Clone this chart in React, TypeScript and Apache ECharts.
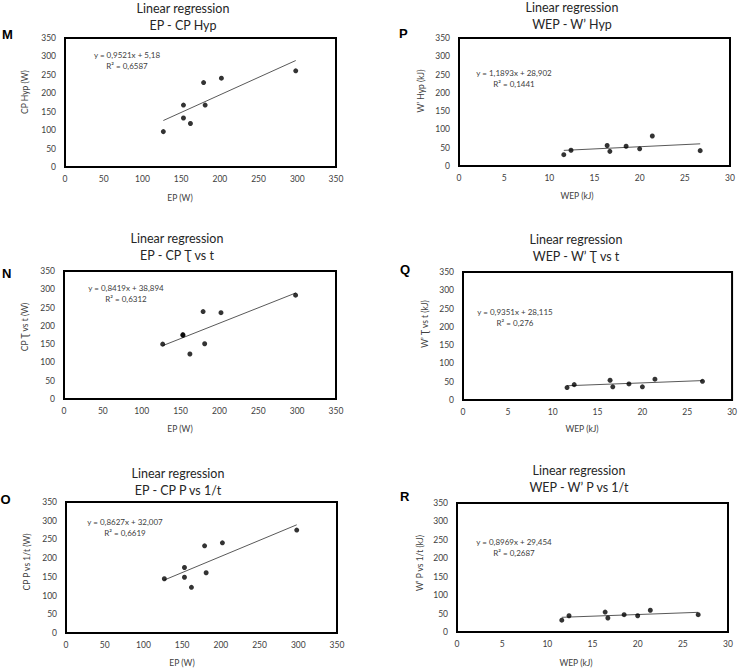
import React, { useEffect, useRef } from "react";
import * as echarts from "echarts";

// ---- data ----
const epValues = [127, 153, 153, 162, 179, 181, 202, 298];
const cpHyp = [96, 168, 133, 118, 229, 168, 241, 261];
const cpTauVsT = [150, 176, 174, 123, 239, 151, 236, 284];
const cpPVsInvT = [145, 175, 149, 122, 233, 161, 241, 275];

const wepValues = [11.6, 12.4, 16.4, 16.7, 18.5, 20.0, 21.4, 26.7];
const wHyp = [31, 43, 56, 40, 54, 47, 82, 42];
const wTauVsT = [34, 42, 54, 36, 44, 36, 57, 51];
const wPVsInvT = [32, 44, 54, 38, 47, 44, 59, 47];

const slopes = [0.9521, 1.1893, 0.8419, 0.9351, 0.8627, 0.8969];
const intercepts = [5.18, 28.902, 38.894, 28.115, 32.007, 29.454];
const equations = [
  "y = 0,9521x + 5,18",
  "y = 1,1893x + 28,902",
  "y = 0,8419x + 38,894",
  "y = 0,9351x + 28,115",
  "y = 0,8627x + 32,007",
  "y = 0,8969x + 29,454",
];
const rSquared = ["R² = 0,6587", "R² = 0,1441", "R² = 0,6312", "R² = 0,276", "R² = 0,6619", "R² = 0,2687"];
const letters = ["M", "P", "N", "Q", "O", "R"];
const subtitles = [
  "EP - CP Hyp",
  "WEP - W\u2019 Hyp",
  "EP - CP \u01AE vs t",
  "WEP - W\u2019 \u01AE vs t",
  "EP - CP P vs 1/t",
  "WEP - W\u2019 P vs 1/t",
];
const xNames = ["EP (W)", "WEP (kJ)", "EP (W)", "WEP (kJ)", "EP (W)", "WEP (kJ)"];
const yNames = [
  "CP Hyp (W)",
  "W\u2019 Hyp (kJ)",
  "CP \u01AE vs t (W)",
  "W\u2019 \u01AE vs t (kJ)",
  "CP P vs 1/t (W)",
  "W\u2019 P vs 1/t (kJ)",
];
const xSeries = [epValues, wepValues, epValues, wepValues, epValues, wepValues];
const ySeries = [cpHyp, wHyp, cpTauVsT, wTauVsT, cpPVsInvT, wPVsInvT];
const xMaxes = [350, 30, 350, 30, 350, 30];
const xIntervals = [50, 5, 50, 5, 50, 5];
const yMax = 350;
const yInterval = 50;

// ---- layout ----
const layout = [
  { grid: { left: 65, top: 38, width: 271, height: 129 }, title: [183, 16.5], letter: [2, 34], yName: [25, 92], xName: [180, 198], eq: [127, 60.5] },
  { grid: { left: 459, top: 38, width: 271, height: 128 }, title: [572, 16], letter: [399, 33], yName: [421, 91], xName: [577, 196], eq: [514, 78.5] },
  { grid: { left: 64, top: 271, width: 272, height: 128 }, title: [177, 247], letter: [2, 273], yName: [25, 327], xName: [180, 429], eq: [126, 293] },
  { grid: { left: 463, top: 272, width: 271, height: 128 }, title: [576, 248], letter: [400, 269], yName: [425, 324], xName: [582, 429], eq: [515, 317.5] },
  { grid: { left: 66, top: 502, width: 271, height: 131 }, title: [178, 481.5], letter: [0.5, 499.5], yName: [27, 562], xName: [182, 663], eq: [125, 527.5] },
  { grid: { left: 457, top: 503, width: 271, height: 129 }, title: [579, 479], letter: [400, 496], yName: [420, 563], xName: [576, 663], eq: [514, 547.5] },
];

const FONT = "Lato, 'Open Sans', sans-serif";
const GREY = "#404040";

export default function App() {
  const ref = useRef<HTMLDivElement>(null);

  useEffect(() => {
    document.body.style.margin = "0";
    if (!ref.current) return;
    const chart = echarts.init(ref.current, undefined, { renderer: "svg" });

    const grids: any[] = [];
    const xAxes: any[] = [];
    const yAxes: any[] = [];
    const series: any[] = [];
    const graphics: any[] = [];

    layout.forEach((L, i) => {
      grids.push({ ...L.grid, show: true, borderColor: "#000", borderWidth: 2, containLabel: false });
      xAxes.push({
        type: "value",
        gridIndex: i,
        min: 0,
        max: xMaxes[i],
        interval: xIntervals[i],
        axisLine: { show: false },
        axisTick: { show: false },
        splitLine: { show: false },
        axisLabel: { color: GREY, fontSize: 8.5, fontFamily: FONT, margin: 7 },
      });
      yAxes.push({
        type: "value",
        gridIndex: i,
        min: 0,
        max: yMax,
        interval: yInterval,
        axisLine: { show: false },
        axisTick: { show: false },
        splitLine: { show: false },
        axisLabel: { color: GREY, fontSize: 8.5, fontFamily: FONT, margin: 9 },
      });
      const xs = xSeries[i];
      const ys = ySeries[i];
      series.push({
        type: "scatter",
        xAxisIndex: i,
        yAxisIndex: i,
        data: xs.map((x, k) => [x, ys[k]]),
        symbol: "circle",
        symbolSize: 5,
        itemStyle: { color: "#000" },
        z: 3,
      });
      const x0 = Math.min(...xs);
      const x1 = Math.max(...xs);
      series.push({
        type: "line",
        xAxisIndex: i,
        yAxisIndex: i,
        data: [
          [x0, slopes[i] * x0 + intercepts[i]],
          [x1, slopes[i] * x1 + intercepts[i]],
        ],
        showSymbol: false,
        lineStyle: { color: "#595959", width: 1 },
        z: 2,
      });

      graphics.push({
        type: "text",
        x: L.title[0],
        y: L.title[1],
        style: {
          text: "Linear regression\n" + subtitles[i],
          align: "center",
          verticalAlign: "middle",
          fontSize: 12.5,
          fontWeight: "normal",
          lineHeight: 17,
          fontFamily: FONT,
          fill: "#262626",
        },
      });
      graphics.push({
        type: "text",
        x: L.letter[0],
        y: L.letter[1],
        style: {
          text: letters[i],
          align: "left",
          verticalAlign: "middle",
          fontSize: 13,
          fontWeight: "bold",
          fontFamily: "'Liberation Sans', Arial, sans-serif",
          fill: "#000",
        },
      });
      graphics.push({
        type: "text",
        x: L.yName[0],
        y: L.yName[1],
        rotation: Math.PI / 2,
        style: {
          text: yNames[i],
          align: "center",
          verticalAlign: "middle",
          fontSize: 8.5,
          fontFamily: FONT,
          fill: GREY,
        },
      });
      graphics.push({
        type: "text",
        x: L.xName[0],
        y: L.xName[1],
        style: {
          text: xNames[i],
          align: "center",
          verticalAlign: "middle",
          fontSize: 8.5,
          fontFamily: FONT,
          fill: GREY,
        },
      });
      graphics.push({
        type: "text",
        x: L.eq[0],
        y: L.eq[1],
        style: {
          text: equations[i] + "\n" + rSquared[i],
          align: "center",
          verticalAlign: "middle",
          fontSize: 8,
          lineHeight: 11,
          fontFamily: FONT,
          fill: GREY,
        },
      });
    });

    chart.setOption({
      animation: false,
      backgroundColor: "#fff",
      grid: grids,
      xAxis: xAxes,
      yAxis: yAxes,
      series,
      graphic: graphics,
    });

    return () => chart.dispose();
  }, []);

  return (
    <div
      ref={ref}
      style={{ position: "absolute", left: 0, top: 0, width: 740, height: 668 }}
    />
  );
}
